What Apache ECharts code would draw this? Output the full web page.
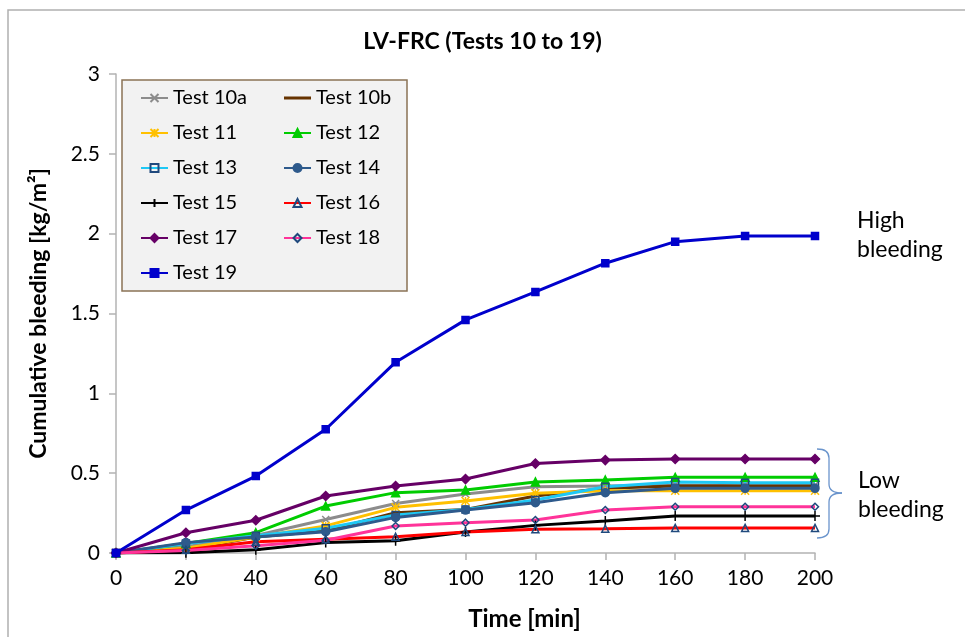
<!DOCTYPE html>
<html>
<head>
<meta charset="utf-8">
<title>LV-FRC (Tests 10 to 19)</title>
<script src="https://cdn.jsdelivr.net/npm/echarts@6/dist/echarts.min.js"></script>
<style>
  html, body { margin: 0; padding: 0; background: #fff; }
  #chart { width: 965px; height: 637px; }
</style>
</head>
<body>
<div id="chart"></div>
<script>
// Elapsed time of each reading [min]
const time = [0, 20, 40, 60, 80, 100, 120, 140, 160, 180, 200];

// Cumulative bleeding per test [kg/m²]
const test10a = [0, 0.04, 0.11, 0.21, 0.31, 0.37, 0.415, 0.42, 0.425, 0.425, 0.425];
const test10b = [0, 0.02, 0.10, 0.14, 0.252, 0.273, 0.357, 0.405, 0.42, 0.42, 0.42];
const test11  = [0, 0.03, 0.10, 0.17, 0.286, 0.326, 0.374, 0.39, 0.39, 0.39, 0.39];
const test12  = [0, 0.06, 0.127, 0.294, 0.378, 0.395, 0.445, 0.457, 0.474, 0.474, 0.474];
const test13  = [0, 0.06, 0.108, 0.155, 0.238, 0.273, 0.332, 0.415, 0.445, 0.44, 0.44];
const test14  = [0, 0.065, 0.10, 0.133, 0.223, 0.269, 0.315, 0.378, 0.405, 0.405, 0.405];
const test15  = [0, 0.002, 0.02, 0.065, 0.077, 0.131, 0.173, 0.20, 0.232, 0.232, 0.232];
const test16  = [0, 0.02, 0.07, 0.086, 0.102, 0.131, 0.148, 0.152, 0.157, 0.157, 0.157];
const test17  = [0, 0.127, 0.205, 0.357, 0.42, 0.463, 0.56, 0.582, 0.589, 0.589, 0.589];
const test18  = [0, 0.015, 0.046, 0.08, 0.169, 0.19, 0.207, 0.269, 0.29, 0.29, 0.29];
const test19  = [0, 0.269, 0.482, 0.775, 1.195, 1.46, 1.635, 1.815, 1.95, 1.985, 1.985];

const seriesNames = ['Test 10a', 'Test 10b', 'Test 11', 'Test 12', 'Test 13', 'Test 14',
                     'Test 15', 'Test 16', 'Test 17', 'Test 18', 'Test 19'];
const seriesValues = [test10a, test10b, test11, test12, test13, test14,
                      test15, test16, test17, test18, test19];

// Legend columns
const legendLeftCol = ['Test 10a', 'Test 11', 'Test 13', 'Test 15', 'Test 17', 'Test 19'];
const legendRightCol = ['Test 10b', 'Test 12', 'Test 14', 'Test 16', 'Test 18'];

// Axis tick settings
const yTicks = { min: 0, max: 3, interval: 0.5 };
const xTicks = { min: 0, max: 200, interval: 20 };

const FONT = 'Lato, "Open Sans", sans-serif';
const markerEdge = '#1f497d';
// thin bar centred in a 27x10 box (the moves pin the box size)
const plainLineIcon = 'path://M0,0M27,10M0,3.5L27,3.5L27,6.5L0,6.5Z';

// Line colour and marker look per test
const styles = [
  { color: '#8c8c8c', symbol: 'path://M0,0L10,10M10,0L0,10', size: 7, fill: 'none', edge: '#8c8c8c' },
  { color: '#663300', symbol: 'none', size: 0, fill: '#663300', edge: '#663300' },
  { color: '#ffc000', symbol: 'path://M0,0L10,10M10,0L0,10M5,0L5,10', size: 8, fill: 'none', edge: '#ffc000' },
  { color: '#00cc00', symbol: 'triangle', size: 8, fill: '#00cc00', edge: '#00cc00' },
  { color: '#1ec8f5', symbol: 'rect', size: 7, fill: 'none', edge: markerEdge },
  { color: '#2e5a8c', symbol: 'circle', size: 8, fill: '#2e5a8c', edge: '#2e5a8c' },
  { color: '#000000', symbol: 'path://M0,5L10,5M5,0L5,10', size: 10, fill: 'none', edge: '#000000' },
  { color: '#ff0000', symbol: 'triangle', size: 7, fill: 'none', edge: markerEdge },
  { color: '#660066', symbol: 'diamond', size: 9, fill: '#660066', edge: '#660066' },
  { color: '#ff3399', symbol: 'diamond', size: 7, fill: 'none', edge: markerEdge },
  { color: '#0000cc', symbol: 'rect', size: 7, fill: '#0000cc', edge: '#0000cc' }
];

const series = seriesNames.map((name, i) => {
  const s = styles[i];
  return {
    name: name,
    type: 'line',
    data: time.map((t, k) => [t, seriesValues[i][k]]),
    symbol: s.symbol,
    symbolSize: s.size,
    showAllSymbol: true,
    lineStyle: { color: s.color, width: 3 },
    itemStyle: {
      color: s.fill === 'none' ? 'rgba(0,0,0,0)' : s.fill,
      borderColor: s.edge,
      borderWidth: s.symbol === 'none' ? 0 : 1.5
    },
    emphasis: { disabled: true },
    z: i === 10 ? 5 : 2
  };
});

// Curly brace beside the low-bleeding group, built from curve and line pieces
const braceStyle = { stroke: '#6a94cc', lineWidth: 1.3, fill: 'none' };
const braceCurve = (x1, y1, cx, cy, x2, y2) => ({
  type: 'bezierCurve',
  shape: { x1: x1, y1: y1, x2: x2, y2: y2, cpx1: cx, cpy1: cy },
  style: braceStyle, silent: true
});
const braceLine = (x1, y1, x2, y2) => ({
  type: 'line',
  shape: { x1: x1, y1: y1, x2: x2, y2: y2 },
  style: braceStyle, silent: true
});

// Series drawn without markers get a plain line in the legend
const legendItems = names => names.map(n => {
  const s = styles[seriesNames.indexOf(n)];
  return s.symbol === 'none' ? { name: n, icon: plainLineIcon } : { name: n };
});

const makeLegend = (id, left, names) => ({
  id: id,
  data: legendItems(names),
  left: left,
  top: 88,
  orient: 'vertical',
  itemGap: 15,
  itemWidth: 27,
  itemHeight: 10,
  padding: 0,
  selectedMode: false,
  textStyle: { fontFamily: FONT, fontSize: 20, color: '#000', lineHeight: 20 }
});

const chart = echarts.init(document.getElementById('chart'), null, { renderer: 'canvas' });

chart.setOption({
  animation: false,
  backgroundColor: '#ffffff',
  title: {
    text: 'LV-FRC (Tests 10 to 19)',
    left: 'center',
    top: 25,
    textStyle: { fontFamily: FONT, fontSize: 23, fontWeight: 'bold', color: '#000' }
  },
  grid: { left: 116, right: 150, top: 74, bottom: 84 },
  xAxis: {
    type: 'value',
    min: xTicks.min,
    max: xTicks.max,
    interval: xTicks.interval,
    name: 'Time [min]',
    nameLocation: 'middle',
    nameGap: 54,
    nameTextStyle: { fontFamily: FONT, fontSize: 24, fontWeight: 'bold', color: '#000', padding: [0, 0, 0, 118] },
    axisLine: { lineStyle: { color: '#b3b3b3', width: 1.5 } },
    axisTick: { lineStyle: { color: '#b3b3b3', width: 1.5 }, length: 7 },
    axisLabel: { fontFamily: FONT, fontSize: 21, color: '#000', margin: 15 },
    splitLine: { show: false }
  },
  yAxis: {
    type: 'value',
    min: yTicks.min,
    max: yTicks.max,
    interval: yTicks.interval,
    name: 'Cumulative bleeding [kg/m²]',
    nameLocation: 'middle',
    nameGap: 66,
    nameRotate: 90,
    nameTextStyle: { fontFamily: FONT, fontSize: 23, fontWeight: 'bold', color: '#000' },
    axisLine: { show: true, lineStyle: { color: '#b3b3b3', width: 1.5 } },
    axisTick: { show: true, lineStyle: { color: '#b3b3b3', width: 1.5 }, length: 7 },
    axisLabel: { fontFamily: FONT, fontSize: 21, color: '#000', margin: 16 },
    splitLine: { show: false }
  },
  legend: [
    makeLegend('colA', 140, legendLeftCol),
    makeLegend('colB', 283, legendRightCol)
  ],
  graphic: [
    // outer chart frame
    {
      type: 'rect',
      shape: { x: 8, y: 10, width: 1000, height: 700 },
      style: { fill: 'none', stroke: '#b0b0b0', lineWidth: 1.5 },
      silent: true, z: -10
    },
    // legend box
    {
      type: 'rect',
      shape: { x: 122, y: 80, width: 285, height: 211 },
      style: { fill: '#f2f2f2', stroke: '#8b7355', lineWidth: 1.5 },
      silent: true, z: -5
    },
    braceCurve(817, 449, 829, 449, 829, 458),
    braceLine(829, 458, 829, 484),
    braceCurve(829, 484, 829, 493, 842, 493),
    braceCurve(842, 493, 829, 493, 829, 502),
    braceLine(829, 502, 829, 529),
    braceCurve(829, 529, 829, 538, 817, 538),
    {
      type: 'text',
      left: 857, top: 206,
      style: { text: 'High\nbleeding', font: '23px ' + FONT, fill: '#000', lineHeight: 29 }
    },
    {
      type: 'text',
      left: 858, top: 466,
      style: { text: 'Low\nbleeding', font: '23px ' + FONT, fill: '#000', lineHeight: 29 }
    }
  ],
  series: series
});
</script>
</body>
</html>
